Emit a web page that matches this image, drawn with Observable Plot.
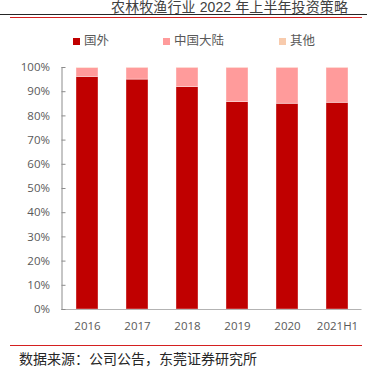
<!DOCTYPE html>
<html><head><meta charset="utf-8">
<script src="https://cdn.jsdelivr.net/npm/d3@7"></script>
<script src="https://cdn.jsdelivr.net/npm/@observablehq/plot@0.6"></script>
<style>
html,body{margin:0;padding:0;background:#fff;}
body{width:367px;height:374px;position:relative;overflow:hidden;font-family:"Noto Sans CJK SC","Noto Sans",sans-serif;}
#header{position:relative;height:55px;}
#title{position:absolute;right:19px;top:0px;font-size:14px;color:#404040;white-space:nowrap;letter-spacing:0.1px;font-family:"Liberation Sans","Noto Sans CJK SC",sans-serif;line-height:14px;}
#line1{position:absolute;left:0;width:367px;top:13.5px;height:1.5px;background:#262626;}
#line2{position:absolute;left:10px;width:352px;top:16.5px;height:1px;background:#d42020;}
.lg{position:absolute;top:32px;font-size:12.5px;color:#595959;white-space:nowrap;line-height:16px;}
.sw{display:inline-block;width:7px;height:7px;margin-right:4px;vertical-align:0px;}
#chart{position:relative;height:280px;}
#footer{position:relative;height:39px;}
#line3{position:absolute;left:10px;width:352px;top:10px;height:1.3px;background:#d42020;}
#source{position:absolute;left:19px;top:13px;font-size:14px;color:#262626;white-space:nowrap;}
</style></head>
<body>
<div id="header">
  <div id="title">农林牧渔行业 2022 年上半年投资策略</div>
  <div id="line1"></div><div id="line2"></div>
  <div id="legend"></div>
</div>
<div id="chart"></div>
<div id="footer"><div id="line3"></div><div id="source">数据来源：公司公告，东莞证券研究所</div></div>
<script>
const years = ["2016","2017","2018","2019","2020","2021H1"];
const series = ["国外","中国大陆","其他"];
const colors = ["#C00000","#FF9B9B","#F8CBAD"];
const foreign  = [96.1, 95.0, 91.9, 85.7, 85.0, 85.4];
const mainland = [3.7, 4.9, 8.0, 14.2, 14.9, 14.5];
const other    = [0.2, 0.1, 0.1, 0.1, 0.1, 0.1];
const yTicks = [0,10,20,30,40,50,60,70,80,90,100];

const data = [];
years.forEach((yr,i)=>{
  data.push({year:yr, s:series[0], v:foreign[i]});
  data.push({year:yr, s:series[1], v:mainland[i]});
  data.push({year:yr, s:series[2], v:other[i]});
});

// legend
const lgLeft = [73,163,279];
const lg = document.getElementById("legend");
series.forEach((s,i)=>{
  const d = document.createElement("div");
  d.className="lg"; d.style.left = lgLeft[i]+"px";
  d.innerHTML = `<span class="sw" style="background:${colors[i]}"></span>${s}`;
  lg.appendChild(d);
});

const chart = Plot.plot({
  width: 367, height: 280,
  marginTop: 12, marginBottom: 26, marginLeft: 61.5, marginRight: 5.5,
  style: {fontFamily: "'Open Sans','Noto Sans',sans-serif", fontSize: "11.5px", color:"#595959", background:"#fff"},
  x: {domain: years, paddingInner: 0.565, paddingOuter: 0.2825, label: null},
  y: {domain: [0,100], label: null},
  color: {domain: series, range: colors},
  marks: [
    Plot.barY(data, {x:"year", y:"v", fill:"s", order: series, stroke:"#fff", strokeOpacity:0.45, strokeWidth:0.8}),
    Plot.ruleY([0], {stroke:"#b3b3b3"}),
    Plot.frame({anchor:"left", stroke:"#8c8c8c"}),
    Plot.axisY(yTicks, {tickSize: 0, tickPadding: 12, tickFormat: d=>d+"%", fill:"#595959"}),
    Plot.axisY(yTicks, {tickSize: -4, text: null, stroke:"#8c8c8c"}),
    Plot.axisX({tickSize: 0, tickPadding: 12, fill:"#595959"})
  ]
});
document.getElementById("chart").appendChild(chart);
</script>
</body></html>
